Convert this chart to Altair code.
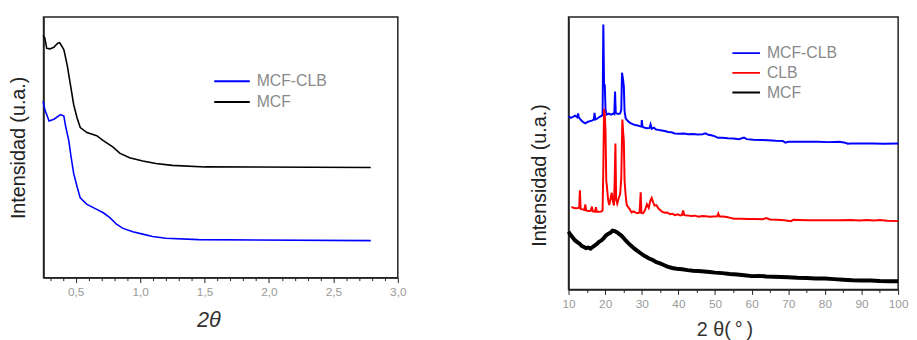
import altair as alt
import pandas as pd

FONT = "Liberation Sans"

# ---------------- left panel (low angle) ----------------
L_MCF_X = [0.247, 0.26, 0.275, 0.30, 0.33, 0.36, 0.375, 0.39, 0.408, 0.434, 0.459, 0.484,
           0.51, 0.535, 0.587, 0.663, 0.714, 0.79, 0.841, 0.918, 1.02, 1.122, 1.249, 1.505, 2.79]
L_MCF_Y = [93.0, 92.0, 88.0, 87.8, 88.4, 90.0, 90.2, 89.0, 87.5, 81.5, 74.0, 66.4,
           61.4, 57.6, 55.7, 54.5, 52.6, 50.1, 47.8, 46.0, 44.8, 43.8, 43.1, 42.5, 42.3]
L_MCFCLB_X = [0.247, 0.26, 0.293, 0.331, 0.382, 0.408, 0.421, 0.446, 0.464, 0.484, 0.51, 0.535,
              0.587, 0.663, 0.714, 0.765, 0.816, 0.867, 0.943, 1.02, 1.096, 1.199, 1.454, 2.79]
L_MCFCLB_Y = [67.7, 64.5, 60.1, 60.8, 62.6, 62.0, 58.2, 52.6, 46.3, 40.0, 35.0, 30.6,
              28.1, 26.2, 24.9, 23.0, 20.5, 18.9, 17.6, 16.7, 15.8, 15.1, 14.6, 14.2]
LEFT_TICKS = [0.3, 0.4, 0.5, 0.6, 0.7, 0.8, 0.9, 1.0, 1.1, 1.2, 1.3, 1.4, 1.5, 1.6, 1.7,
              1.8, 1.9, 2.0, 2.1, 2.2, 2.3, 2.4, 2.5, 2.6, 2.7, 2.8, 2.9, 3.0]
LEFT_SERIES = ["MCF-CLB", "MCF"]

# ---------------- right panel (wide angle) ----------------
R_MCFCLB_X = [10.0, 10.6, 11.2, 11.8, 12.4, 12.6, 12.8, 13.4, 14.0, 14.6, 15.2, 15.8, 16.4, 16.9,
              17.1, 17.3, 17.9, 18.5, 19.1, 19.3, 19.5, 19.7, 19.9, 20.1, 20.4, 21.0, 21.6, 22.2,
              22.5, 22.7, 22.9, 23.5, 24.1, 24.4, 24.6, 24.9, 25.1, 25.3, 25.6, 26.2, 26.8, 27.5,
              28.2, 28.9, 29.6, 29.9, 30.0, 30.2, 30.8, 31.5, 32.1, 32.4, 32.7, 33.3, 33.9, 34.6,
              35.4, 36.3, 37.2, 38.1, 39.0, 40.2, 41.5, 42.7, 44.0, 45.3, 46.6, 47.4, 48.2, 49.0,
              50.0, 50.8, 52.0, 53.5, 55.0, 56.5, 57.9, 58.6, 60.5, 62.5, 64.5, 66.5, 68.5, 69.2,
              70.0, 72.0, 75.0, 78.0, 81.0, 84.0, 85.5, 86.2, 87.0, 90.0, 93.0, 96.0, 100.0]
R_MCFCLB_Y = [63.6, 63.0, 63.4, 63.8, 63.2, 64.6, 63.2, 62.2, 61.4, 61.0, 61.5, 61.8, 62.0, 62.4,
              64.8, 62.4, 62.8, 63.4, 63.8, 64.4, 97.3, 75.3, 75.0, 66.0, 64.2, 64.6, 64.2, 64.6,
              64.4, 72.7, 64.8, 64.4, 64.6, 66.0, 79.6, 77.0, 74.5, 65.5, 62.8, 61.8, 61.2, 60.7,
              60.4, 60.2, 59.9, 59.8, 62.2, 59.7, 59.4, 59.2, 59.3, 60.6, 59.0, 59.4, 58.7, 58.6,
              58.4, 58.2, 57.8, 57.7, 57.3, 57.2, 57.3, 57.0, 57.1, 56.9, 57.0, 57.3, 56.8, 56.6,
              56.2, 55.7, 55.7, 55.5, 55.4, 55.2, 55.8, 55.2, 55.0, 54.9, 54.8, 54.6, 54.5, 53.9,
              54.2, 54.2, 54.2, 54.2, 54.1, 54.2, 53.9, 53.5, 53.6, 53.6, 53.6, 53.5, 53.6]

R_CLB_X = [10.8, 11.3, 11.9, 12.5, 12.9, 13.1, 13.3, 13.8, 14.3, 14.6, 14.8, 15.4, 16.0, 16.4,
           16.6, 17.2, 17.5, 17.7, 18.3, 18.9, 19.3, 19.5, 19.7, 19.9, 20.1, 20.3, 20.5, 20.8,
           21.1, 21.5, 21.8, 22.1, 22.4, 22.6, 22.8, 23.0, 23.3, 23.7, 24.1, 24.4, 24.7, 24.9,
           25.1, 25.3, 25.6, 25.9, 26.3, 26.7, 27.2, 27.7, 28.3, 28.9, 29.4, 29.7, 29.9, 30.4,
           30.9, 31.4, 31.9, 32.3, 32.7, 33.1, 33.5, 34.0, 34.5, 35.0, 35.6, 36.3, 37.0, 37.7,
           38.4, 39.1, 39.8, 40.5, 41.0, 41.3, 41.6, 42.5, 43.5, 44.5, 45.5, 46.5, 47.5, 48.5,
           49.5, 50.6, 50.9, 51.2, 52.2, 53.2, 54.2, 55.2, 57.0, 59.0, 61.0, 63.0, 64.0, 65.0,
           67.0, 69.0, 70.7, 71.4, 73.0, 75.5, 78.0, 81.0, 84.0, 87.0, 89.5, 91.5, 93.5, 95.0,
           97.0, 100.0]
R_CLB_Y = [30.3, 30.0, 29.8, 29.9, 30.0, 36.4, 29.6, 29.4, 29.2, 31.2, 29.0, 28.8, 28.9, 30.4,
           28.7, 28.6, 30.2, 28.5, 28.5, 28.6, 29.0, 45.0, 66.3, 64.0, 58.0, 40.0, 37.6, 33.0,
           31.0, 33.5, 35.5, 32.5, 30.8, 40.0, 53.6, 33.0, 31.5, 33.5, 35.0, 41.0, 62.4, 58.0,
           54.5, 40.0, 34.5, 31.0, 30.2, 29.5, 28.3, 28.7, 28.2, 28.0, 28.3, 35.7, 28.1, 28.0,
           29.2, 31.3, 30.0, 32.5, 33.6, 32.0, 30.8, 31.0, 29.8, 29.2, 28.5, 28.2, 28.3, 27.6,
           27.8, 27.3, 27.6, 27.2, 27.4, 29.0, 27.3, 27.2, 27.0, 27.1, 26.7, 27.0, 26.9, 26.7,
           26.8, 26.9, 27.9, 26.8, 26.8, 26.6, 26.3, 26.0, 26.0, 25.9, 25.9, 25.8, 26.2, 25.7,
           25.6, 25.4, 25.1, 25.6, 25.5, 25.4, 25.4, 25.4, 25.4, 25.5, 25.3, 25.5, 25.3, 25.5,
           25.2, 25.1]

R_MCF_X = [10.0, 10.6, 11.2, 11.8, 12.4, 13.0, 13.6, 14.2, 14.8, 15.4, 16.0, 16.6, 17.2, 17.8,
           18.4, 19.0, 19.6, 20.2, 20.8, 21.4, 22.0, 22.6, 23.2, 23.8, 24.4, 25.0, 25.6, 26.2,
           26.8, 27.4, 28.0, 28.8, 29.6, 30.4, 31.2, 32.0, 33.0, 34.0, 35.0, 36.0, 37.0, 38.3,
           39.5, 41.0, 42.5, 44.0, 45.5, 47.0, 48.5, 50.0, 52.0, 54.0, 56.0, 58.0, 60.0, 62.0,
           64.0, 66.0, 68.0, 70.0, 72.5, 75.0, 77.5, 80.0, 82.5, 85.0, 87.5, 90.0, 92.5, 95.0,
           97.5, 100.0]
R_MCF_Y = [21.2, 20.0, 19.0, 18.0, 17.4, 16.8, 16.0, 15.6, 15.2, 15.4, 15.0, 15.6, 16.2, 16.8,
           17.6, 18.0, 18.8, 19.8, 20.4, 20.8, 21.6, 21.4, 21.0, 20.4, 19.8, 19.0, 18.0, 17.2,
           16.4, 15.7, 15.0, 14.2, 13.4, 12.6, 12.0, 11.4, 10.8, 10.0, 9.6, 9.0, 8.4, 7.9,
           7.6, 7.4, 7.1, 6.9, 6.8, 6.6, 6.4, 6.2, 6.0, 5.7, 5.5, 5.2, 4.9, 5.0,
           4.8, 4.7, 4.6, 4.5, 4.3, 4.2, 4.0, 4.0, 3.8, 3.6, 3.4, 3.3, 3.3, 3.1,
           3.0, 3.0]
RIGHT_TICKS = [10, 15, 20, 25, 30, 35, 40, 45, 50, 55, 60, 65, 70, 75, 80, 85, 90, 95, 100]
RIGHT_SERIES = ["MCF-CLB", "CLB", "MCF"]


def frame(xs, ys, name):
    return pd.DataFrame({"x": xs, "y": ys, "s": name})


TITLE_COLOR = "#222"
LABEL_COLOR = "#9a9a9a"
LEGEND_COLOR = "#8a8a8a"

y_axis_left = alt.Axis(labels=False, ticks=False, title="Intensidad (u.a.)", titleFontSize=20,
                       titlePadding=15, titleColor=TITLE_COLOR, titleFontWeight="normal")
y_axis_right = alt.Axis(labels=False, ticks=False, title="Intensidad (u.a.)", titleFontSize=20,
                        titlePadding=19, titleColor=TITLE_COLOR, titleFontWeight="normal",
                        titleY=160)

left_major = "abs(datum.value*2 - round(datum.value*2)) < 0.001"
x_axis_left = alt.Axis(
    values=LEFT_TICKS, title="2θ", titleFontStyle="italic", titleFontSize=22,
    titleFontWeight="normal", titleColor="#333", titlePadding=13, titleX=167,
    labelExpr=f"{left_major} ? replace(format(datum.value, '.1f'), '.', ',') : ''",
    tickSize={"condition": {"test": left_major, "value": 5}, "value": 3},
    labelColor=LABEL_COLOR, labelFontSize=12, labelPadding=4, labelOverlap=False,
    labelFlush=False)

right_major = "datum.value % 10 == 0"
x_axis_right = alt.Axis(
    values=RIGHT_TICKS, title="2 θ(\u2009°\u2009)", titleFontSize=20, titleFontWeight="normal",
    titleColor="#333", titlePadding=11, titleX=158,
    labelExpr=f"{right_major} ? format(datum.value, 'd') : ''",
    tickSize={"condition": {"test": right_major, "value": 5}, "value": 3},
    labelColor=LABEL_COLOR, labelFontSize=12, labelPadding=4, labelOverlap=False,
    labelFlush=False)


def legend(x, y, size, clip):
    return alt.Legend(title=None, orient="none", legendX=x, legendY=y, symbolType="stroke",
                      symbolSize=size, symbolStrokeWidth=2, labelFontSize=16,
                      labelColor=LEGEND_COLOR, labelFont=FONT, clipHeight=clip, rowPadding=1,
                      labelOffset=6, padding=0)


# left chart
lcolor = alt.Color("s:N", scale=alt.Scale(domain=LEFT_SERIES, range=["#0000ff", "#000000"]),
                   legend=legend(172, 55, 1296, 20))
lx = alt.X("x:Q", scale=alt.Scale(domain=[0.25, 3.0], nice=False), axis=x_axis_left)
ly = alt.Y("y:Q", scale=alt.Scale(domain=[0, 100], nice=False), axis=y_axis_left)

left_layers = [
    alt.Chart(frame(L_MCFCLB_X, L_MCFCLB_Y, "MCF-CLB")).mark_line(strokeWidth=1.6).encode(
        x=lx, y=ly, color=lcolor),
    alt.Chart(frame(L_MCF_X, L_MCF_Y, "MCF")).mark_line(strokeWidth=1.6).encode(
        x=lx, y=ly, color=lcolor),
]
left = alt.layer(*left_layers).properties(
    width=359, height=264,
    title=alt.TitleParams(text=" ", fontSize=1, offset=3))

# right chart
rcolor = alt.Color("s:N", scale=alt.Scale(domain=RIGHT_SERIES,
                                          range=["#0000ff", "#ff0000", "#000000"]),
                   legend=legend(165, 27, 784, 19))
rx = alt.X("x:Q", scale=alt.Scale(domain=[10, 100], nice=False), axis=x_axis_right)
ry = alt.Y("y:Q", scale=alt.Scale(domain=[0, 100], nice=False), axis=y_axis_right)

right_layers = [
    alt.Chart(frame(R_MCFCLB_X, R_MCFCLB_Y, "MCF-CLB")).mark_line(strokeWidth=2).encode(
        x=rx, y=ry, color=rcolor),
    alt.Chart(frame(R_CLB_X, R_CLB_Y, "CLB")).mark_line(strokeWidth=2).encode(
        x=rx, y=ry, color=rcolor),
    alt.Chart(frame(R_MCF_X, R_MCF_Y, "MCF")).mark_line(strokeWidth=4).encode(
        x=rx, y=ry, color=rcolor),
]
right = alt.layer(*right_layers).properties(width=334, height=276)

chart = (
    alt.hconcat(left, right, spacing=123)
    .resolve_scale(color="independent")
    .properties(padding={"left": 0, "top": 2, "right": 0, "bottom": 0})
    .configure_view(stroke="#222", strokeWidth=1.5)
    .configure_axis(domainColor="#222", domainWidth=1.5, tickColor="#222", tickWidth=1,
                    grid=False, labelFont=FONT, titleFont=FONT)
    .configure_title(font=FONT)
)

chart.save("out.html", embed_options={"renderer": "svg", "actions": False})
